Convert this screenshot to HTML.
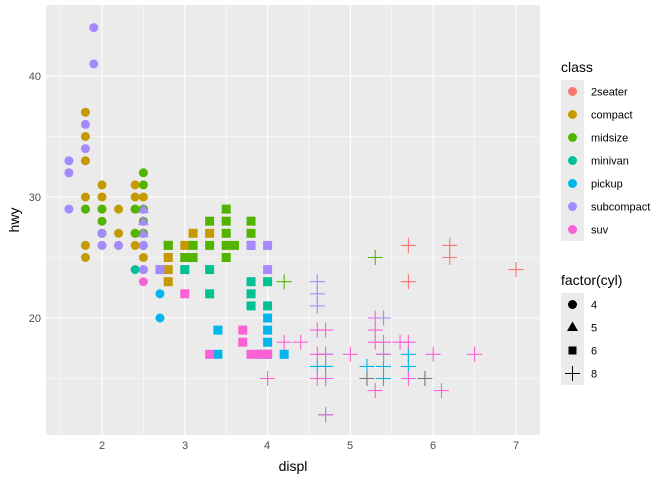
<!DOCTYPE html>
<html><head><meta charset="utf-8"><style>
body{margin:0;background:#fff;}
svg{display:block;font-family:"Liberation Sans",sans-serif;}
</style></head><body>
<svg id="s" width="672" height="480" xmlns="http://www.w3.org/2000/svg">
<rect x="0" y="0" width="672" height="480" fill="#fff"/>
<rect x="46" y="5" width="494" height="430" fill="#EBEBEB"/>
<g id="grid"></g>
<g id="pts"></g>
<g font-size="11" fill="#4D4D4D" text-anchor="end">
<text x="41" y="322">20</text><text x="41" y="201">30</text><text x="41" y="80">40</text>
</g>
<g font-size="11" fill="#4D4D4D" text-anchor="middle">
<text x="102" y="449">2</text><text x="185" y="449">3</text><text x="267" y="449">4</text>
<text x="350" y="449">5</text><text x="433" y="449">6</text><text x="516" y="449">7</text>
</g>
<text x="293" y="471" font-size="14" text-anchor="middle" fill="#000">displ</text>
<text transform="translate(19,220) rotate(-90)" font-size="14" text-anchor="middle" fill="#000">hwy</text>
<text x="561" y="72" font-size="14">class</text>
<rect x="561" y="80" width="23" height="161" fill="#EBEBEB"/>
<g font-size="11" fill="#000">
<circle cx="572.5" cy="91.5" r="4.5" fill="#F8766D"/><text x="591" y="95.5">2seater</text>
<circle cx="572.5" cy="114.5" r="4.5" fill="#C49A00"/><text x="591" y="118.5">compact</text>
<circle cx="572.5" cy="137.5" r="4.5" fill="#53B400"/><text x="591" y="141.5">midsize</text>
<circle cx="572.5" cy="160.5" r="4.5" fill="#00C094"/><text x="591" y="164.5">minivan</text>
<circle cx="572.5" cy="183.5" r="4.5" fill="#00B6EB"/><text x="591" y="187.5">pickup</text>
<circle cx="572.5" cy="206.5" r="4.5" fill="#A58AFF"/><text x="591" y="210.5">subcompact</text>
<circle cx="572.5" cy="229.5" r="4.5" fill="#FB61D7"/><text x="591" y="233.5">suv</text>
</g>
<text x="561" y="285" font-size="14">factor(cyl)</text>
<rect x="561" y="293" width="23" height="92" fill="#EBEBEB"/>
<g font-size="11" fill="#000">
<circle cx="572.5" cy="304.5" r="4.5"/><text x="591" y="308.5">4</text>
<polygon points="572.5,321.5 578,331 567,331"/><text x="591" y="331.5">5</text>
<rect x="568.5" y="346.5" width="8" height="8"/><text x="591" y="354.5">6</text>
<path d="M565 373.5H580M572.5 366V381" stroke="#000" stroke-width="1"/><text x="591" y="377.5">8</text>
</g>
</svg>
<script>
var X=function(d){return 102+(d-2)*82.8;}, Y=function(h){return 318-(h-20)*12.1;};
var g=document.getElementById('grid'),s='';
[1.5,2.5,3.5,4.5,5.5,6.5].forEach(function(d){s+='<line x1="'+X(d)+'" x2="'+X(d)+'" y1="5" y2="435" stroke="#fff" stroke-width="0.5"/>';});
[15,25,35].forEach(function(h){s+='<line y1="'+Y(h)+'" y2="'+Y(h)+'" x1="46" x2="540" stroke="#fff" stroke-width="0.5"/>';});
[2,3,4,5,6,7].forEach(function(d){s+='<line x1="'+X(d)+'" x2="'+X(d)+'" y1="5" y2="435" stroke="#fff" stroke-width="1.1"/>';});
[20,30,40].forEach(function(h){s+='<line y1="'+Y(h)+'" y2="'+Y(h)+'" x1="46" x2="540" stroke="#fff" stroke-width="1.1"/>';});
g.innerHTML=s;
var C={t:'#F8766D',c:'#C49A00',m:'#53B400',v:'#00C094',p:'#00B6EB',s:'#A58AFF',u:'#FB61D7',g:'#777'};
var P=[
// compact circles
['c',4,[[1.8,37],[1.8,35],[1.8,33],[1.8,30],[1.8,29],[1.8,26],[1.8,25],[2,31],[2,30],[2,29],[2,27],[2,26],[2.2,29],[2.2,27],[2.2,26],[2.4,31],[2.4,30],[2.4,29],[2.4,27],[2.4,26],[2.5,30],[2.5,29],[2.5,27],[2.5,26],[2.5,25]]],
['c',6,[[2.8,26],[2.8,25],[2.8,24],[2.8,23],[3,26],[3,25],[3.1,27],[3.3,27]]],
['m',4,[[1.8,29],[2,29],[2,28],[2,27],[2.4,29],[2.4,27],[2.5,32],[2.5,31],[2.5,29],[2.5,28],[2.5,27],[2.5,26]]],
['m',6,[[2.8,26],[3,25],[3.1,26],[3.1,25],[3.3,28],[3.3,26],[3.5,29],[3.5,28],[3.5,27],[3.5,26],[3.5,25],[3.6,26],[3.8,28],[3.8,27],[3.8,26]]],
['m',8,[[4.2,23],[5.3,25]]],
['v',4,[[2.4,24]]],
['v',6,[[3,24],[3.3,24],[3.3,22],[3.8,23],[3.8,22],[3.8,21],[4,23],[4,21]]],
['p',4,[[2.7,22],[2.7,20]]],
['p',6,[[3.4,19],[3.4,17],[3.9,17],[4,20],[4,19],[4,18],[4,17],[4.2,17]]],
['p',8,[[4.7,17],[4.7,16],[4.7,15],[4.7,12],[4.6,16],[5.2,16],[5.4,17],[5.4,16],[5.4,15],[5.7,17],[5.7,16]]],
['u',4,[[2.5,24],[2.5,23]]],
['u',6,[[3,22],[3.3,17],[3.7,19],[3.7,18],[3.9,17],[4,17],[3.8,17]]],
['u',8,[[4,15],[4.2,18],[4.4,18],[4.6,19],[4.6,17],[4.6,15],[4.7,19],[4.7,17],[4.7,15],[5,17],[5.3,20],[5.3,19],[5.3,18],[5.3,14],[5.4,20],[5.4,18],[5.4,17],[5.6,18],[5.7,18],[5.7,15],[6,17],[6.1,14],[6.5,17],[4.7,12]]],
['s',4,[[1.6,33],[1.6,32],[1.6,29],[1.9,44],[1.9,41],[1.8,36],[1.8,34],[2,27],[2,26],[2.2,26],[2.5,26],[2.5,24]]],
['s',5,[[2.5,29],[2.5,28],[2.5,27]]],
['s',6,[[2.7,24],[3.8,26],[4,26],[4,24]]],
['s',8,[[4.6,23],[4.6,22],[4.6,21],[5.4,20]]],
['t',8,[[5.7,26],[5.7,23],[6.2,26],[6.2,25],[7,24]]],
['g',8,[[5.2,15],[5.9,15]]]
];
var o='';
P.forEach(function(a){var c=C[a[0]];a[2].forEach(function(p){var x=X(p[0]),y=Y(p[1]);
if(a[1]==4)o+='<circle cx="'+x+'" cy="'+y+'" r="4.5" fill="'+c+'"/>';
else if(a[1]==5)o+='<polygon points="'+x+','+(y-5.5)+' '+(x+5.5)+','+(y+4)+' '+(x-5.5)+','+(y+4)+'" fill="'+c+'"/>';
else if(a[1]==6)o+='<rect x="'+(x-4.5)+'" y="'+(y-4.5)+'" width="9" height="9" fill="'+c+'"/>';
else o+='<path d="M'+(x-7.5)+' '+y+'H'+(x+7.5)+'M'+x+' '+(y-7.5)+'V'+(y+7.5)+'" stroke="'+c+'" stroke-width="1.1"/>';
});});
document.getElementById('pts').innerHTML=o;
</script>
</body></html>
